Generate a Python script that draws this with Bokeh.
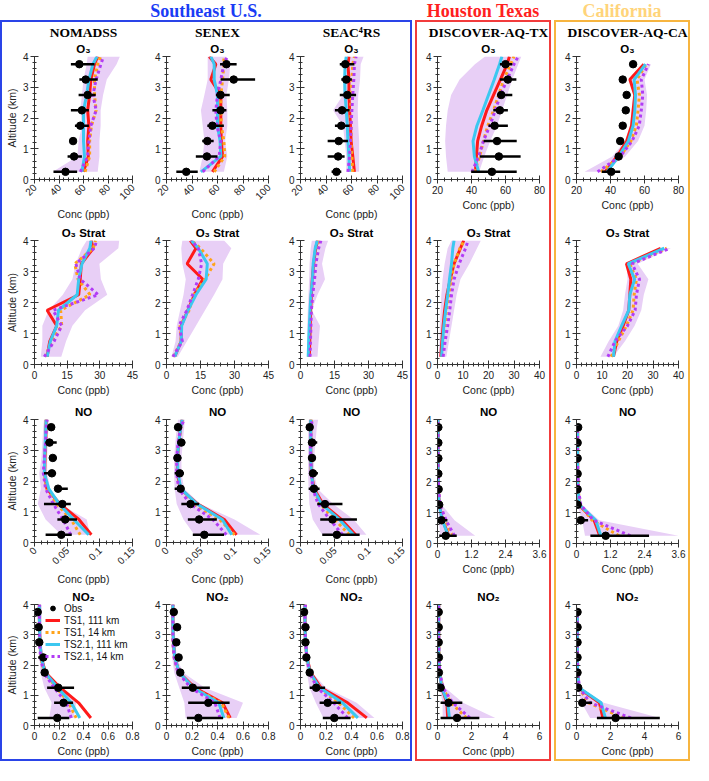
import math
import numpy as np
from bokeh.plotting import figure
from bokeh.models import (ColumnDataSource, Range1d, FixedTicker, Title, Legend,
                          LegendItem, Div, CustomJSTickFormatter)
from bokeh.layouts import row, column
from bokeh.embed import file_html
from bokeh.resources import INLINE

# ---------------- data ----------------
ALT_MODEL = [0.25, 0.75, 1.25, 1.75, 2.25, 2.75, 3.25, 3.75, 4.0]
ALT_MODEL_CA = [0.25, 0.75, 1.25, 1.75, 2.25, 2.75, 3.25, 3.75]
ALT_OBS = [0.25, 0.75, 1.25, 1.75, 2.25, 2.75, 3.25, 3.75]

GROUPS = ["Southeast U.S.", "Houston Texas", "California"]
CAMPAIGNS = ["NOMADSS", "SENEX", "SEAC\u2074RS", "DISCOVER-AQ-TX", "DISCOVER-AQ-CA"]
SPECIES = ["O\u2083", "O\u2083 Strat", "NO", "NO\u2082"]
SERIES = ["Obs", "TS1, 111 km", "TS1, 14 km", "TS2.1, 111 km", "TS2.1, 14 km"]

X_TICKS_SE = [[20, 40, 60, 80, 100], [0, 15, 30, 45], [0, 0.05, 0.1, 0.15], [0, 0.2, 0.4, 0.6, 0.8]]
X_TICKS_TXCA = [[20, 40, 60, 80], [0, 10, 20, 30, 40], [0, 1.2, 2.4, 3.6], [0, 2, 4, 6]]
Y_TICKS = [0, 1, 2, 3, 4]

# ---- O3 ----
nomadss_o3 = dict(
    obs=[45.3, 52.3, 51.5, 57.4, 58.7, 63.4, 61.8, 56.6],
    obs_lo=[35.5, 47.0, 49.0, 53.0, 49.7, 56.0, 56.6, 49.7],
    obs_hi=[54.8, 58.7, 54.0, 64.4, 64.4, 70.0, 71.6, 69.0],
    ts1_111=[60.0, 63.9, 63.4, 64.4, 63.4, 65.0, 66.0, 69.0, 71.6],
    ts1_14=[61.3, 65.0, 65.0, 66.5, 70.3, 69.0, 69.0, 71.6, 74.0],
    ts21_111=[58.7, 60.8, 60.0, 60.0, 60.0, 62.6, 64.4, 67.7, 71.0],
    ts21_14=[57.4, 63.4, 64.4, 66.0, 70.3, 67.7, 70.3, 74.2, 76.3],
    band_lo=[35.0, 55.0, 56.0, 58.7, 57.4, 58.7, 60.0, 62.6, 63.4],
    band_hi=[71.6, 73.0, 73.0, 74.0, 74.0, 76.0, 79.0, 87.0, 89.7],
)
senex_o3 = dict(
    obs=[35.5, 51.7, 52.0, 56.0, 62.4, 62.4, 72.7, 67.0],
    obs_lo=[27.7, 43.0, 48.0, 52.0, 56.0, 58.7, 62.4, 62.0],
    obs_hi=[44.5, 60.0, 57.0, 65.0, 67.0, 69.6, 89.5, 75.0],
    ts1_111=[56.0, 64.0, 63.0, 62.6, 62.6, 62.6, 54.8, 58.7, 53.5],
    ts1_14=[57.4, 65.7, 65.0, 63.0, 62.6, 62.6, 64.0, 65.0, 65.0],
    ts21_111=[47.0, 62.6, 62.0, 60.0, 60.0, 60.0, 57.4, 57.4, 54.8],
    ts21_14=[48.4, 61.3, 62.6, 59.5, 58.7, 60.0, 62.6, 65.0, 67.7],
    band_lo=[45.8, 48.4, 49.7, 48.4, 47.0, 49.7, 52.3, 52.3, 52.3],
    band_hi=[65.0, 67.7, 66.0, 67.7, 67.7, 67.0, 69.0, 70.0, 67.0],
)
seac4rs_o3 = dict(
    obs=[48.2, 49.5, 50.0, 52.0, 52.6, 56.7, 55.9, 55.1],
    obs_lo=[44.4, 41.3, 41.3, 47.0, 47.0, 50.8, 52.0, 50.8],
    obs_hi=[52.0, 54.6, 57.2, 58.5, 58.5, 63.6, 60.3, 62.3],
    ts1_111=[62.3, 61.0, 59.7, 59.2, 58.5, 58.0, 58.0, 57.2, 58.0],
    ts1_14=[61.0, 60.3, 59.7, 59.7, 59.2, 59.7, 60.3, 61.0, 62.3],
    ts21_111=[58.5, 58.0, 57.2, 56.7, 55.9, 55.0, 54.6, 55.0, 55.9],
    ts21_14=[57.2, 58.5, 59.2, 59.7, 60.3, 61.0, 61.8, 62.3, 63.6],
    band_lo=[55.9, 55.9, 54.6, 53.3, 45.6, 53.3, 54.0, 54.6, 55.0],
    band_hi=[66.0, 66.0, 66.0, 65.3, 64.9, 65.3, 66.7, 67.2, 69.5],
)
tx_o3 = dict(
    obs=[52.0, 56.1, 55.0, 53.6, 56.7, 57.5, 61.4, 60.0],
    obs_lo=[39.8, 44.8, 47.1, 50.0, 52.8, 55.0, 56.7, 56.7],
    obs_hi=[66.6, 68.9, 66.6, 61.4, 61.4, 64.0, 66.4, 64.0],
    ts1_111=[42.3, 42.9, 43.6, 46.0, 49.0, 53.0, 57.0, 61.0, 62.3],
    ts1_14=[41.7, 44.8, 47.0, 49.6, 53.0, 56.0, 59.0, 63.0, 65.0],
    ts21_111=[44.2, 41.7, 40.9, 43.2, 46.7, 50.0, 53.4, 56.5, 57.9],
    ts21_14=[40.3, 44.2, 47.0, 50.8, 54.0, 57.0, 61.0, 65.0, 67.5],
    band_lo=[26.0, 25.0, 24.5, 25.0, 26.0, 28.0, 33.0, 42.0, 48.0],
    band_hi=[44.5, 47.5, 51.0, 55.0, 58.0, 61.0, 64.0, 67.5, 69.3],
)
ca_o3 = dict(
    obs=[40.4, 44.8, 45.7, 47.2, 49.0, 49.5, 47.2, 53.3],
    obs_lo=[34.9, 42.9, None, None, None, None, None, None],
    obs_hi=[45.7, 46.7, None, None, None, None, None, None],
    ts1_111=[36.8, 43.8, 49.5, 52.4, 53.3, 54.3, 51.4, 59.6],
    ts1_14=[34.3, 45.7, 52.0, 55.2, 56.2, 57.0, 55.6, 61.0],
    ts21_111=[38.0, 44.8, 50.5, 53.3, 54.3, 54.7, 53.9, 60.6],
    ts21_14=[32.4, 45.7, 52.7, 56.9, 58.1, 59.0, 58.1, 62.3],
    band_lo=[24.8, 41.0, 48.6, 51.4, 52.4, 53.3, 52.4, 59.0],
    band_hi=[35.0, 48.6, 56.2, 60.0, 61.0, 61.5, 60.0, 63.8],
)
# ---- O3 Strat (no observations) ----
nomadss_o3s = dict(
    ts1_111=[5.8, 7.0, 10.2, 5.8, 20.3, 21.0, 21.5, 27.0, 26.0],
    ts1_14=[5.0, 7.8, 12.5, 12.0, 25.5, 20.0, 18.5, 27.0, 28.0],
    ts21_111=[5.8, 7.3, 10.2, 11.0, 19.6, 20.3, 21.8, 25.4, 26.0],
    ts21_14=[4.5, 9.0, 12.5, 8.5, 29.3, 21.0, 19.0, 27.5, 28.5],
    band_lo=[2.9, 3.6, 3.6, 6.5, 13.0, 17.4, 18.9, 21.8, 24.0],
    band_hi=[12.3, 14.5, 17.4, 23.2, 33.4, 30.5, 29.8, 38.5, 38.9],
)
senex_o3s = dict(
    ts1_111=[3.6, 6.5, 6.5, 9.4, 12.3, 16.0, 9.1, 13.0, 10.5],
    ts1_14=[3.0, 6.5, 6.0, 10.0, 12.0, 17.0, 21.0, 15.0, 11.0],
    ts21_111=[3.6, 6.5, 6.7, 9.5, 13.0, 17.5, 18.0, 14.0, 11.0],
    ts21_14=[2.8, 7.0, 5.5, 9.0, 11.5, 14.0, 15.5, 14.0, 11.0],
    band_lo=[2.2, 4.0, 4.5, 6.0, 7.5, 8.5, 7.0, 6.5, 7.0],
    band_hi=[5.0, 9.0, 13.0, 17.0, 21.0, 24.7, 25.0, 28.6, 25.4],
)
seac4rs_o3s = dict(
    ts1_111=[3.9, 4.1, 4.3, 4.5, 4.8, 5.2, 5.8, 6.7, 7.6],
    ts1_14=[3.8, 4.0, 4.2, 4.6, 5.0, 5.6, 6.3, 7.3, 8.2],
    ts21_111=[3.4, 3.6, 3.9, 4.2, 4.6, 5.3, 5.6, 6.5, 7.4],
    ts21_14=[4.2, 4.4, 4.6, 4.8, 5.4, 6.2, 6.8, 8.0, 9.0],
    band_lo=[2.8, 3.0, 3.0, 3.2, 3.5, 3.8, 4.0, 4.5, 5.0],
    band_hi=[7.5, 8.0, 8.6, 5.0, 7.5, 10.8, 9.5, 11.0, 12.2],
)
tx_o3s = dict(
    ts1_111=[1.3, 1.7, 2.2, 2.8, 3.7, 5.0, 6.5, 9.0, 10.3],
    ts1_14=[1.8, 2.3, 2.9, 3.5, 4.4, 5.4, 6.5, 8.8, 10.5],
    ts21_111=[1.6, 2.0, 2.5, 3.2, 4.0, 4.7, 5.5, 6.0, 6.5],
    ts21_14=[2.2, 3.0, 4.0, 4.8, 5.5, 6.5, 8.5, 11.0, 12.0],
    band_lo=[0.5, 0.8, 1.0, 1.2, 1.5, 2.0, 2.8, 4.0, 5.5],
    band_hi=[3.5, 4.5, 5.5, 6.5, 7.5, 9.0, 12.5, 15.5, 17.0],
)
ca_o3s = dict(
    ts1_111=[14.5, 15.8, 18.3, 20.5, 20.9, 21.3, 19.6, 33.0],
    ts1_14=[13.6, 16.4, 19.6, 22.2, 22.6, 23.5, 20.9, 35.4],
    ts21_111=[14.5, 15.1, 17.7, 20.5, 20.9, 22.8, 20.3, 34.4],
    ts21_14=[12.3, 15.1, 20.0, 23.0, 23.5, 24.7, 21.8, 36.7],
    band_lo=[9.4, 12.6, 16.4, 18.3, 19.0, 20.0, 19.6, 33.0],
    band_hi=[14.5, 19.0, 22.8, 25.4, 26.4, 28.2, 24.0, 37.0],
)
# ---- NO ----
nomadss_no = dict(
    obs=[0.041, 0.047, 0.0426, 0.036, 0.0266, 0.028, 0.023, 0.0256],
    obs_lo=[0.017, 0.035, 0.0145, 0.031, 0.0145, 0.024, 0.017, 0.021],
    obs_hi=[0.057, 0.065, 0.0556, 0.051, 0.033, 0.034, 0.034, 0.031],
    ts1_111=[0.087, 0.068, 0.039, 0.019, 0.0155, 0.016, 0.017, 0.0177, 0.018],
    ts1_14=[0.070, 0.056, 0.034, 0.0183, 0.015, 0.016, 0.017, 0.0177, 0.018],
    ts21_111=[0.083, 0.060, 0.038, 0.0218, 0.015, 0.0155, 0.0165, 0.0174, 0.0179],
    ts21_14=[0.0556, 0.0435, 0.029, 0.0169, 0.0135, 0.015, 0.017, 0.018, 0.0194],
    band_lo=[0.041, 0.017, 0.005, 0.0097, 0.0073, 0.0106, 0.012, 0.0135, 0.0145],
    band_hi=[0.085, 0.080, 0.039, 0.024, 0.0194, 0.0194, 0.0203, 0.0213, 0.022],
)
senex_no = dict(
    obs=[0.0556, 0.048, 0.0353, 0.0208, 0.0194, 0.016, 0.0218, 0.017],
    obs_lo=[0.0387, 0.0314, 0.0218, 0.012, 0.012, 0.012, 0.016, 0.012],
    obs_hi=[0.0847, 0.074, 0.048, 0.026, 0.0256, 0.0218, 0.0276, 0.0218],
    ts1_111=[0.103, 0.085, 0.046, 0.020, 0.016, 0.016, 0.018, 0.021, 0.023],
    ts1_14=[0.100, 0.078, 0.040, 0.019, 0.016, 0.016, 0.018, 0.021, 0.024],
    ts21_111=[0.096, 0.082, 0.045, 0.021, 0.017, 0.016, 0.018, 0.021, 0.023],
    ts21_14=[0.088, 0.068, 0.035, 0.018, 0.015, 0.015, 0.017, 0.021, 0.026],
    band_lo=[0.041, 0.025, 0.015, 0.012, 0.011, 0.011, 0.013, 0.015, 0.017],
    band_hi=[0.138, 0.100, 0.050, 0.026, 0.022, 0.022, 0.024, 0.026, 0.027],
)
seac4rs_no = dict(
    obs=[0.0535, 0.047, 0.036, 0.0198, 0.0183, 0.0169, 0.0169, 0.0135],
    obs_lo=[0.032, 0.029, 0.0246, 0.012, 0.0135, 0.012, 0.011, 0.0087],
    obs_hi=[0.087, 0.083, 0.0617, 0.028, 0.0256, 0.022, 0.0246, 0.018],
    ts1_111=[0.081, 0.060, 0.033, 0.020, 0.016, 0.015, 0.015, 0.015, 0.015],
    ts1_14=[0.072, 0.050, 0.029, 0.019, 0.016, 0.015, 0.015, 0.015, 0.016],
    ts21_111=[0.078, 0.057, 0.031, 0.019, 0.016, 0.015, 0.015, 0.015, 0.015],
    ts21_14=[0.062, 0.043, 0.026, 0.018, 0.016, 0.015, 0.015, 0.016, 0.017],
    band_lo=[0.032, 0.018, 0.013, 0.012, 0.011, 0.011, 0.011, 0.011, 0.012],
    band_hi=[0.097, 0.078, 0.048, 0.025, 0.020, 0.020, 0.022, 0.024, 0.026],
)
tx_no = dict(
    obs=[0.29, 0.14, 0.06, 0.04, 0.03, 0.03, 0.03, 0.03],
    obs_lo=[0.06, 0.0, None, None, None, None, None, None],
    obs_hi=[0.68, 0.35, None, None, None, None, None, None],
    ts1_111=[0.40, 0.18, 0.06, 0.03, 0.02, 0.02, 0.02, 0.02, 0.02],
    ts1_14=[0.55, 0.25, 0.08, 0.03, 0.02, 0.02, 0.02, 0.02, 0.02],
    ts21_111=[0.38, 0.17, 0.06, 0.03, 0.02, 0.02, 0.02, 0.02, 0.02],
    ts21_14=[0.60, 0.30, 0.09, 0.04, 0.02, 0.02, 0.02, 0.02, 0.02],
    band_lo=[0.10, 0.05, 0.02, 0.01, 0.01, 0.01, 0.01, 0.01, 0.01],
    band_hi=[1.33, 0.60, 0.15, 0.06, 0.04, 0.04, 0.04, 0.04, 0.04],
)
ca_no = dict(
    obs=[1.03, 0.15, 0.04, 0.04, 0.04, 0.04, 0.04, 0.06],
    obs_lo=[0.49, 0.09, None, None, None, None, None, None],
    obs_hi=[2.56, 0.41, None, None, None, None, None, None],
    ts1_111=[0.82, 0.62, 0.08, 0.05, 0.04, 0.04, 0.04, 0.04],
    ts1_14=[1.50, 0.55, 0.12, 0.06, 0.05, 0.04, 0.04, 0.04],
    ts21_111=[0.86, 0.68, 0.10, 0.05, 0.04, 0.04, 0.04, 0.04],
    ts21_14=[1.90, 0.60, 0.15, 0.07, 0.05, 0.04, 0.04, 0.04],
    band_lo=[0.30, 0.20, 0.03, 0.02, 0.02, 0.02, 0.02, 0.02],
    band_hi=[3.60, 0.80, 0.20, 0.08, 0.06, 0.06, 0.06, 0.06],
)
# ---- NO2 ----
nomadss_no2 = dict(
    obs=[0.186, 0.237, 0.194, 0.083, 0.072, 0.039, 0.034, 0.026],
    obs_lo=[0.026, 0.16, 0.103, 0.075, 0.03, None, None, None],
    obs_hi=[0.284, 0.315, 0.323, 0.09, 0.098, None, None, None],
    ts1_111=[0.46, 0.36, 0.21, 0.09, 0.055, 0.045, 0.04, 0.04, 0.04],
    ts1_14=[0.34, 0.28, 0.18, 0.08, 0.05, 0.045, 0.04, 0.04, 0.04],
    ts21_111=[0.37, 0.30, 0.19, 0.085, 0.055, 0.045, 0.04, 0.04, 0.04],
    ts21_14=[0.30, 0.26, 0.16, 0.075, 0.05, 0.04, 0.04, 0.04, 0.04],
    band_lo=[0.12, 0.14, 0.08, 0.05, 0.04, 0.03, 0.03, 0.03, 0.03],
    band_hi=[0.32, 0.34, 0.22, 0.10, 0.07, 0.06, 0.06, 0.06, 0.06],
)
senex_no2 = dict(
    obs=[0.25, 0.328, 0.206, 0.108, 0.095, 0.077, 0.083, 0.057],
    obs_lo=[0.16, 0.17, 0.12, 0.085, None, None, None, None],
    obs_hi=[0.444, 0.495, 0.34, 0.13, None, None, None, None],
    ts1_111=[0.50, 0.44, 0.22, 0.10, 0.065, 0.055, 0.05, 0.05, 0.05],
    ts1_14=[0.49, 0.43, 0.21, 0.09, 0.06, 0.05, 0.05, 0.05, 0.05],
    ts21_111=[0.45, 0.41, 0.21, 0.10, 0.065, 0.055, 0.05, 0.05, 0.05],
    ts21_14=[0.42, 0.38, 0.19, 0.09, 0.06, 0.05, 0.05, 0.05, 0.05],
    band_lo=[0.15, 0.14, 0.10, 0.06, 0.045, 0.04, 0.04, 0.04, 0.04],
    band_hi=[0.55, 0.60, 0.30, 0.13, 0.08, 0.07, 0.065, 0.065, 0.065],
)
seac4rs_no2 = dict(
    obs=[0.265, 0.213, 0.123, 0.072, 0.046, 0.039, 0.039, 0.028],
    obs_lo=[0.175, 0.15, 0.072, None, None, None, None, None],
    obs_hi=[0.393, 0.316, 0.193, None, None, None, None, None],
    ts1_111=[0.52, 0.37, 0.16, 0.08, 0.05, 0.04, 0.035, 0.035, 0.035],
    ts1_14=[0.42, 0.30, 0.14, 0.075, 0.05, 0.04, 0.035, 0.035, 0.035],
    ts21_111=[0.45, 0.33, 0.15, 0.075, 0.05, 0.04, 0.035, 0.035, 0.035],
    ts21_14=[0.37, 0.26, 0.13, 0.07, 0.05, 0.04, 0.035, 0.035, 0.04],
    band_lo=[0.18, 0.12, 0.07, 0.05, 0.035, 0.025, 0.02, 0.02, 0.02],
    band_hi=[0.58, 0.44, 0.20, 0.09, 0.06, 0.05, 0.05, 0.05, 0.05],
)
tx_no2 = dict(
    obs=[1.15, 0.65, 0.18, 0.08, 0.08, 0.07, 0.07, 0.07],
    obs_lo=[0.18, 0.18, 0.05, None, None, None, None, None],
    obs_hi=[2.46, 1.46, 0.40, None, None, None, None, None],
    ts1_111=[0.60, 0.55, 0.25, 0.12, 0.08, 0.07, 0.07, 0.07, 0.07],
    ts1_14=[1.70, 0.80, 0.30, 0.13, 0.09, 0.08, 0.07, 0.07, 0.07],
    ts21_111=[0.70, 0.60, 0.25, 0.12, 0.08, 0.07, 0.07, 0.07, 0.07],
    ts21_14=[1.90, 0.90, 0.32, 0.14, 0.09, 0.08, 0.07, 0.07, 0.07],
    band_lo=[0.30, 0.30, 0.12, 0.06, 0.04, 0.04, 0.04, 0.04, 0.04],
    band_hi=[3.40, 1.50, 0.45, 0.20, 0.12, 0.10, 0.10, 0.10, 0.10],
)
ca_no2 = dict(
    obs=[2.30, 0.34, 0.10, 0.06, 0.06, 0.06, 0.06, 0.06],
    obs_lo=[1.20, 0.15, None, None, None, None, None, None],
    obs_hi=[4.90, 0.92, None, None, None, None, None, None],
    ts1_111=[1.55, 1.35, 0.12, 0.06, 0.05, 0.05, 0.05, 0.05],
    ts1_14=[2.80, 0.70, 0.15, 0.07, 0.05, 0.05, 0.05, 0.05],
    ts21_111=[1.70, 1.45, 0.15, 0.07, 0.05, 0.05, 0.05, 0.05],
    ts21_14=[3.20, 0.80, 0.17, 0.08, 0.06, 0.05, 0.05, 0.05],
    band_lo=[0.80, 0.30, 0.05, 0.03, 0.03, 0.03, 0.03, 0.03],
    band_hi=[4.90, 1.60, 0.25, 0.10, 0.08, 0.08, 0.08, 0.08],
)

PANELS = [
    [nomadss_o3, senex_o3, seac4rs_o3, tx_o3, ca_o3],
    [nomadss_o3s, senex_o3s, seac4rs_o3s, tx_o3s, ca_o3s],
    [nomadss_no, senex_no, seac4rs_no, tx_no, ca_no],
    [nomadss_no2, senex_no2, seac4rs_no2, tx_no2, ca_no2],
]

# ---------------- style ----------------
RED = "#ff1a1a"
ORANGE = "#ffa31a"
CYAN = "#3cc8f0"
PURPLE = "#b23cf5"
BAND = "#e8cff6"
AXC = "#333333"
SANS = "Liberation Sans"
SERIF = "Liberation Serif"

FRAME_W = 102
FRAME_H = 124
ROW_TOP = [33, 17, 19, 15]
ROW_BOTTOM = [44, 36, 44, 33]
SE_LEFT = [28, 22, 22]
SE_RIGHT = [12, 10, 8]
TXCA_LEFT = 20
TXCA_RIGHT = 10


def minor(ticks, n=5):
    out = []
    for a, b in zip(ticks[:-1], ticks[1:]):
        st = (b - a) / n
        out += [a + st * k for k in range(1, n)]
    return out


def arr(lst):
    return np.array([np.nan if v is None else v for v in lst], dtype=float)


def make_panel(ri, ci):
    d = PANELS[ri][ci]
    se = ci < 3
    ticks = X_TICKS_SE[ri] if se else X_TICKS_TXCA[ri]
    rotate = se and ri in (0, 2)
    if se:
        left, right = SE_LEFT[ci], SE_RIGHT[ci]
    else:
        left, right = TXCA_LEFT, TXCA_RIGHT
    top, bottom = ROW_TOP[ri], ROW_BOTTOM[ri]
    alts = ALT_MODEL_CA if ci == 4 else ALT_MODEL
    p = figure(width=left + FRAME_W + right, height=top + FRAME_H + bottom,
               title=None, x_range=Range1d(ticks[0], ticks[-1]), y_range=Range1d(0, 4),
               output_backend="svg", toolbar_location=None,
               min_border_left=left, min_border_right=right,
               min_border_top=top, min_border_bottom=bottom)
    p.outline_line_color = None
    p.xgrid.visible = False
    p.ygrid.visible = False

    # titles: inner (species) first, outer (campaign) second
    p.add_layout(Title(text=SPECIES[ri], align="center", text_font=SANS,
                       text_font_size="11.5px", text_font_style="bold",
                       text_color="black", standoff=3, offset=0), "above")
    if ri == 0:
        p.add_layout(Title(text=CAMPAIGNS[ci], align="center", text_font=SERIF,
                           text_font_size="13.5px", text_font_style="bold",
                           text_color="black", standoff=0, offset=0), "above")

    msrc = ColumnDataSource(dict(
        alt=alts, band_lo=d["band_lo"], band_hi=d["band_hi"],
        ts1_111=d["ts1_111"], ts1_14=d["ts1_14"],
        ts21_111=d["ts21_111"], ts21_14=d["ts21_14"]))
    p.harea(x1="band_lo", x2="band_hi", y="alt", source=msrc,
            fill_color=BAND, fill_alpha=1.0)
    r_red = p.line(x="ts1_111", y="alt", source=msrc, line_color=RED, line_width=3)
    r_org = p.line(x="ts1_14", y="alt", source=msrc, line_color=ORANGE, line_width=3,
                   line_dash="3 3")
    r_cyn = p.line(x="ts21_111", y="alt", source=msrc, line_color=CYAN, line_width=3)
    r_pur = p.line(x="ts21_14", y="alt", source=msrc, line_color=PURPLE, line_width=3,
                   line_dash="3 3")
    r_obs = None
    if "obs" in d:
        osrc = ColumnDataSource(dict(alt=ALT_OBS, obs=arr(d["obs"]),
                                     lo=arr(d["obs_lo"]), hi=arr(d["obs_hi"])))
        p.segment(x0="lo", y0="alt", x1="hi", y1="alt", source=osrc,
                  line_color="black", line_width=2.6)
        r_obs = p.scatter(x="obs", y="alt", source=osrc, size=7.5,
                          fill_color="black", line_color="black")

    # axes
    for ax in (p.xaxis[0], p.yaxis[0]):
        ax.axis_line_color = AXC
        ax.major_tick_line_color = AXC
        ax.minor_tick_line_color = AXC
        ax.major_tick_in = 4
        ax.major_tick_out = 4
        ax.minor_tick_in = 2
        ax.minor_tick_out = 2
        ax.major_label_text_font = SANS
        ax.major_label_text_font_size = "10px"
        ax.major_label_text_color = "#222222"
        ax.major_label_standoff = 2
        ax.axis_label_text_font = SANS
        ax.axis_label_text_font_size = "10.5px"
        ax.axis_label_text_font_style = "normal"
        ax.axis_label_text_color = "#222222"
        ax.axis_label_standoff = 2
    p.xaxis.ticker = FixedTicker(ticks=ticks, minor_ticks=minor(ticks))
    p.xaxis.formatter = CustomJSTickFormatter(code="return String(tick)")
    p.xaxis.axis_label = "Conc (ppb)"
    if rotate:
        p.xaxis.major_label_orientation = math.pi / 4
    p.yaxis.ticker = FixedTicker(ticks=Y_TICKS, minor_ticks=minor(Y_TICKS))
    p.yaxis.formatter = CustomJSTickFormatter(code="return String(tick)")
    if ci == 0:
        p.yaxis.axis_label = "Altitude (km)"

    if ri == 3 and ci == 0:
        items = [LegendItem(label=SERIES[0], renderers=[r_obs]),
                 LegendItem(label=SERIES[1], renderers=[r_red]),
                 LegendItem(label=SERIES[2], renderers=[r_org]),
                 LegendItem(label=SERIES[3], renderers=[r_cyn]),
                 LegendItem(label=SERIES[4], renderers=[r_pur])]
        leg = Legend(items=items, location=(11, FRAME_H - 5 * 12 - 1),
                     background_fill_alpha=0, border_line_alpha=0,
                     label_text_font=SANS, label_text_font_size="10px",
                     label_text_color="#111111",
                     glyph_width=15, glyph_height=12, label_height=12,
                     spacing=0, padding=0, margin=0, label_standoff=4)
        p.add_layout(leg)
    return p


figs = [[make_panel(r, c) for c in range(5)] for r in range(4)]

BOX_COLORS = ["#2a44e8", "#f23c3c", "#f7b540"]
HEAD_COLORS = ["#1a3cf5", "#ff2020", "#ffd47a"]
col_sets = [[0, 1, 2], [3], [4]]
groups = []
for g, cols in enumerate(col_sets):
    rows_ = [row(*[figs[r][c] for c in cols], spacing=0) for r in range(4)]
    box = column(*rows_, spacing=0,
                 styles={"border": "2px solid " + BOX_COLORS[g]})
    inner_w = sum(figs[0][c].width for c in cols)
    head = Div(text=('<div style="width:%dpx;text-align:center;'
                     'font-family:\'Liberation Serif\';font-weight:bold;font-size:18px;'
                     'line-height:22px;color:%s;white-space:nowrap">%s</div>'
                     % (inner_w + 4, HEAD_COLORS[g], GROUPS[g])),
               width=inner_w + 4, height=20, margin=(0, 0, 0, 0),
               styles={"text-align": "center"})
    groups.append(column(head, box, spacing=0))

layout = row(*groups, spacing=3)

open("out.html", "w").write(file_html(layout, INLINE))
